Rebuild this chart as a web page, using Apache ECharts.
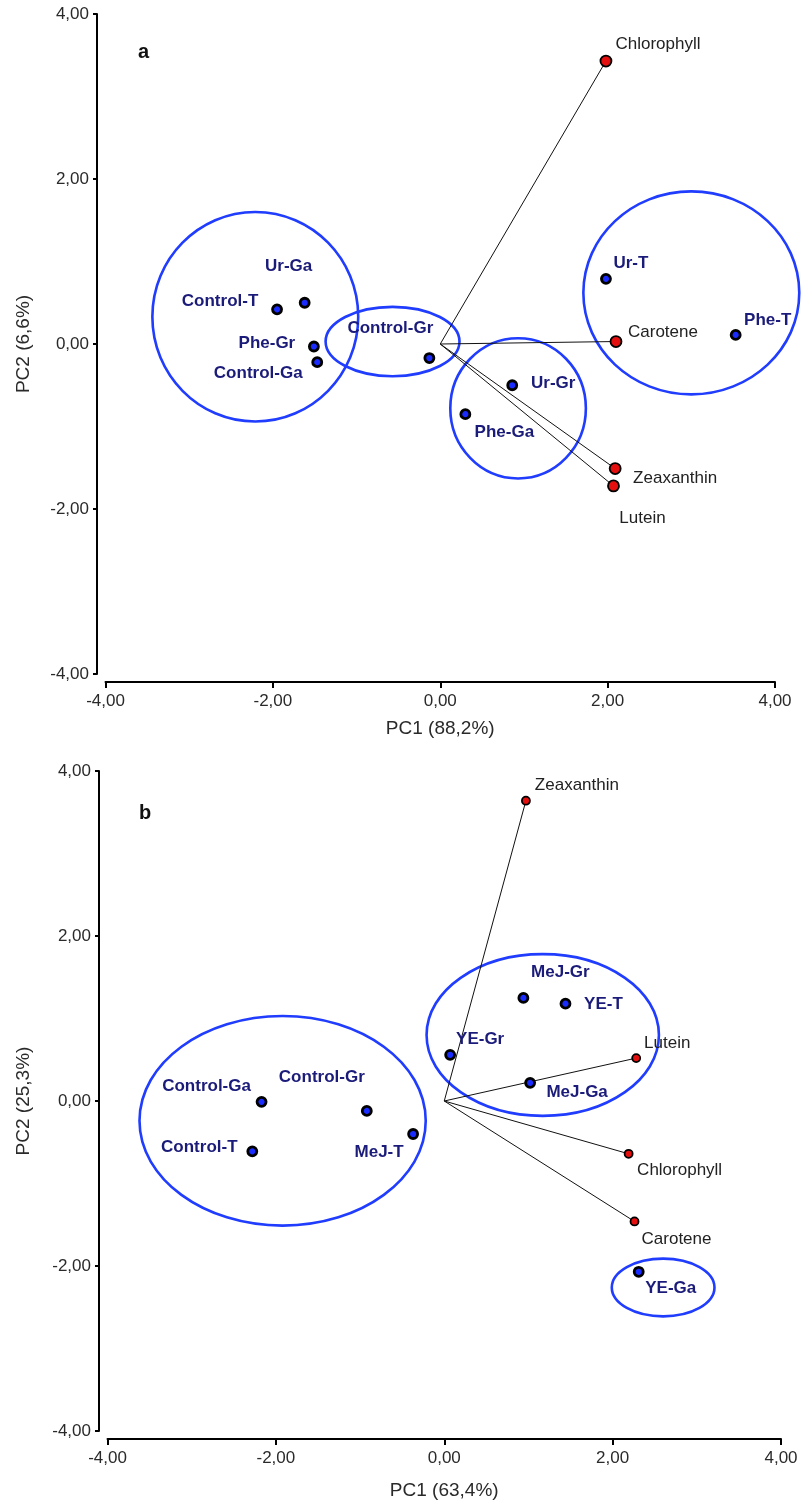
<!DOCTYPE html>
<html>
<head>
<meta charset="utf-8">
<script src="https://cdn.jsdelivr.net/npm/echarts@6/dist/echarts.min.js"></script>
<style>
html,body{margin:0;padding:0;background:#fff;}
#chart{width:801px;height:1503px;}
</style>
</head>
<body>
<div id="chart"></div>
<script>
// ---------- Panel a data ----------
const samplesA = ['Ur-Ga','Control-T','Phe-Gr','Control-Ga','Control-Gr','Ur-T','Phe-T','Ur-Gr','Phe-Ga'];
const samplePc1A = [-1.62,-1.95,-1.51,-1.47,-0.13,1.98,3.53,0.86,0.30];
const samplePc2A = [0.50,0.42,-0.03,-0.22,-0.17,0.79,0.11,-0.50,-0.85];
const loadingsA = ['Chlorophyll','Carotene','Zeaxanthin','Lutein'];
const loadPc1A = [1.98,2.10,2.09,2.07];
const loadPc2A = [3.43,0.03,-1.51,-1.72];
const groupCxA = [-2.21,-0.57,0.93,3.00];
const groupCyA = [0.33,0.03,-0.78,0.62];
const groupRxA = [1.23,0.80,0.81,1.29];
const groupRyA = [1.27,0.42,0.85,1.23];

// ---------- Panel b data ----------
const samplesB = ['Control-Ga','Control-Gr','Control-T','MeJ-T','MeJ-Gr','YE-T','YE-Gr','MeJ-Ga','YE-Ga'];
const samplePc1B = [-2.17,-0.92,-2.28,-0.37,0.94,1.44,0.07,1.02,2.31];
const samplePc2B = [-0.01,-0.12,-0.61,-0.40,1.25,1.18,0.56,0.22,-2.07];
const loadingsB = ['Zeaxanthin','Lutein','Chlorophyll','Carotene'];
const loadPc1B = [0.97,2.28,2.19,2.26];
const loadPc2B = [3.64,0.52,-0.64,-1.46];
const groupCxB = [-1.92,1.17,2.60];
const groupCyB = [-0.24,0.80,-2.26];
const groupRxB = [1.70,1.38,0.61];
const groupRyB = [1.27,0.98,0.35];

// ---------- Axis / text ----------
const axisMin = -4, axisMax = 4, axisStep = 2;
const xTitleA = 'PC1 (88,2%)', yTitleA = 'PC2 (6,6%)';
const xTitleB = 'PC1 (63,4%)', yTitleB = 'PC2 (25,3%)';
const panelLetters = ['a','b'];

// ---------- Label placement (style, pixel offsets) ----------
const sampleLabelOffA = [[-16,-36],[-57,-8],[-47,-3],[-59,11],[-39,-30],[25,-16],[32,-15],[41,-2],[39,18]];
const loadLabelOffA = [[52,-17],[47,-9],[60,10],[29,32]];
const sampleLabelOffB = [[-55,-16],[-45,-34],[-53,-4],[-34,18],[37,-26],[38,1],[30,-15],[47,9],[32,17]];
const loadLabelOffB = [[51,-15],[31,-15],[51,17],[42,18]];

const FONT = "'Liberation Sans', Arial, sans-serif";
const fmt = v => v.toFixed(2).replace('.', ',');

function xAxisCfg(gi, title, gap){
  return {
    type:'value', gridIndex:gi, min:axisMin, max:axisMax, interval:axisStep,
    offset:8, name:title, nameLocation:'middle', nameGap:gap,
    nameTextStyle:{fontFamily:FONT, fontSize:19, color:'#2a2a2a'},
    axisLine:{onZero:false, lineStyle:{color:'#000', width:2}},
    axisTick:{show:true, length:6, lineStyle:{color:'#000', width:2}},
    axisLabel:{fontFamily:FONT, fontSize:17, color:'#2a2a2a', margin:11, formatter:fmt},
    splitLine:{show:false}
  };
}
function yAxisCfg(gi, title, gap){
  return {
    type:'value', gridIndex:gi, min:axisMin, max:axisMax, interval:axisStep,
    offset:8.5, name:title, nameLocation:'middle', nameGap:gap, nameRotate:90,
    nameTextStyle:{fontFamily:FONT, fontSize:19, color:'#2a2a2a'},
    axisLine:{onZero:false, lineStyle:{color:'#000', width:2}},
    axisTick:{show:true, length:4, lineStyle:{color:'#000', width:2}},
    axisLabel:{fontFamily:FONT, fontSize:17, color:'#2a2a2a', margin:8, formatter:fmt},
    splitLine:{show:false}
  };
}

function panelSeries(gi, samples, px, py, sOff, loads, lx, ly, lOff, cx, cy, rx, ry, loadSize){
  const out = [];
  out.push({
    type:'custom', xAxisIndex:gi, yAxisIndex:gi, clip:false, silent:true, z:2,
    data: cx.map((c,i)=>[c, cy[i], rx[i], ry[i]]),
    renderItem:(params, api)=>{
      const c = api.coord([api.value(0), api.value(1)]);
      const s = api.size([api.value(2), api.value(3)]);
      return {type:'ellipse', shape:{cx:c[0], cy:c[1], rx:s[0], ry:s[1]},
        style:{fill:'none', stroke:'#1f3cff', lineWidth:2.6}};
    }
  });
  loads.forEach((n,i)=>{
    out.push({
      type:'line', xAxisIndex:gi, yAxisIndex:gi, silent:true, z:3,
      data:[[0,0],[lx[i], ly[i]]], showSymbol:false, symbol:'none',
      lineStyle:{color:'#111', width:1}
    });
  });
  out.push({
    type:'scatter', xAxisIndex:gi, yAxisIndex:gi, z:4, symbol:'circle', symbolSize:loadSize,
    itemStyle:{color:'#e41010', borderColor:'#000', borderWidth:1.8, opacity:1},
    label:{show:true, position:['50%','50%'], align:'center', verticalAlign:'middle',
      formatter:p=>p.name, fontFamily:FONT, fontSize:17, color:'#222'},
    data: loads.map((n,i)=>({name:n, value:[lx[i], ly[i]], label:{offset:lOff[i]}}))
  });
  out.push({
    type:'scatter', xAxisIndex:gi, yAxisIndex:gi, z:5, symbol:'circle', symbolSize:9,
    itemStyle:{color:'#1a2cff', borderColor:'#000', borderWidth:2.8, opacity:1},
    label:{show:true, position:['50%','50%'], align:'center', verticalAlign:'middle',
      formatter:p=>p.name, fontFamily:FONT, fontSize:17, fontWeight:'bold', color:'#1b1b7a'},
    data: samples.map((n,i)=>({name:n, value:[px[i], py[i]], label:{offset:sOff[i]}}))
  });
  return out;
}

const chart = echarts.init(document.getElementById('chart'), null, {renderer:'canvas', width:801, height:1503});
chart.setOption({
  animation:false,
  backgroundColor:'#fff',
  grid:[
    {left:105.5, top:14, width:669.5, height:660},
    {left:107.5, top:771, width:673.5, height:660}
  ],
  xAxis:[xAxisCfg(0, xTitleA, 37), xAxisCfg(1, xTitleB, 42)],
  yAxis:[yAxisCfg(0, yTitleA, 64), yAxisCfg(1, yTitleB, 66)],
  graphic:[
    {type:'text', left:138, top:42, style:{text:panelLetters[0], font:"bold 20px "+FONT, fill:'#111'}},
    {type:'text', left:139, top:803, style:{text:panelLetters[1], font:"bold 20px "+FONT, fill:'#111'}}
  ],
  series:[].concat(
    panelSeries(0, samplesA, samplePc1A, samplePc2A, sampleLabelOffA,
      loadingsA, loadPc1A, loadPc2A, loadLabelOffA,
      groupCxA, groupCyA, groupRxA, groupRyA, 11),
    panelSeries(1, samplesB, samplePc1B, samplePc2B, sampleLabelOffB,
      loadingsB, loadPc1B, loadPc2B, loadLabelOffB,
      groupCxB, groupCyB, groupRxB, groupRyB, 8)
  )
});
</script>
</body>
</html>
